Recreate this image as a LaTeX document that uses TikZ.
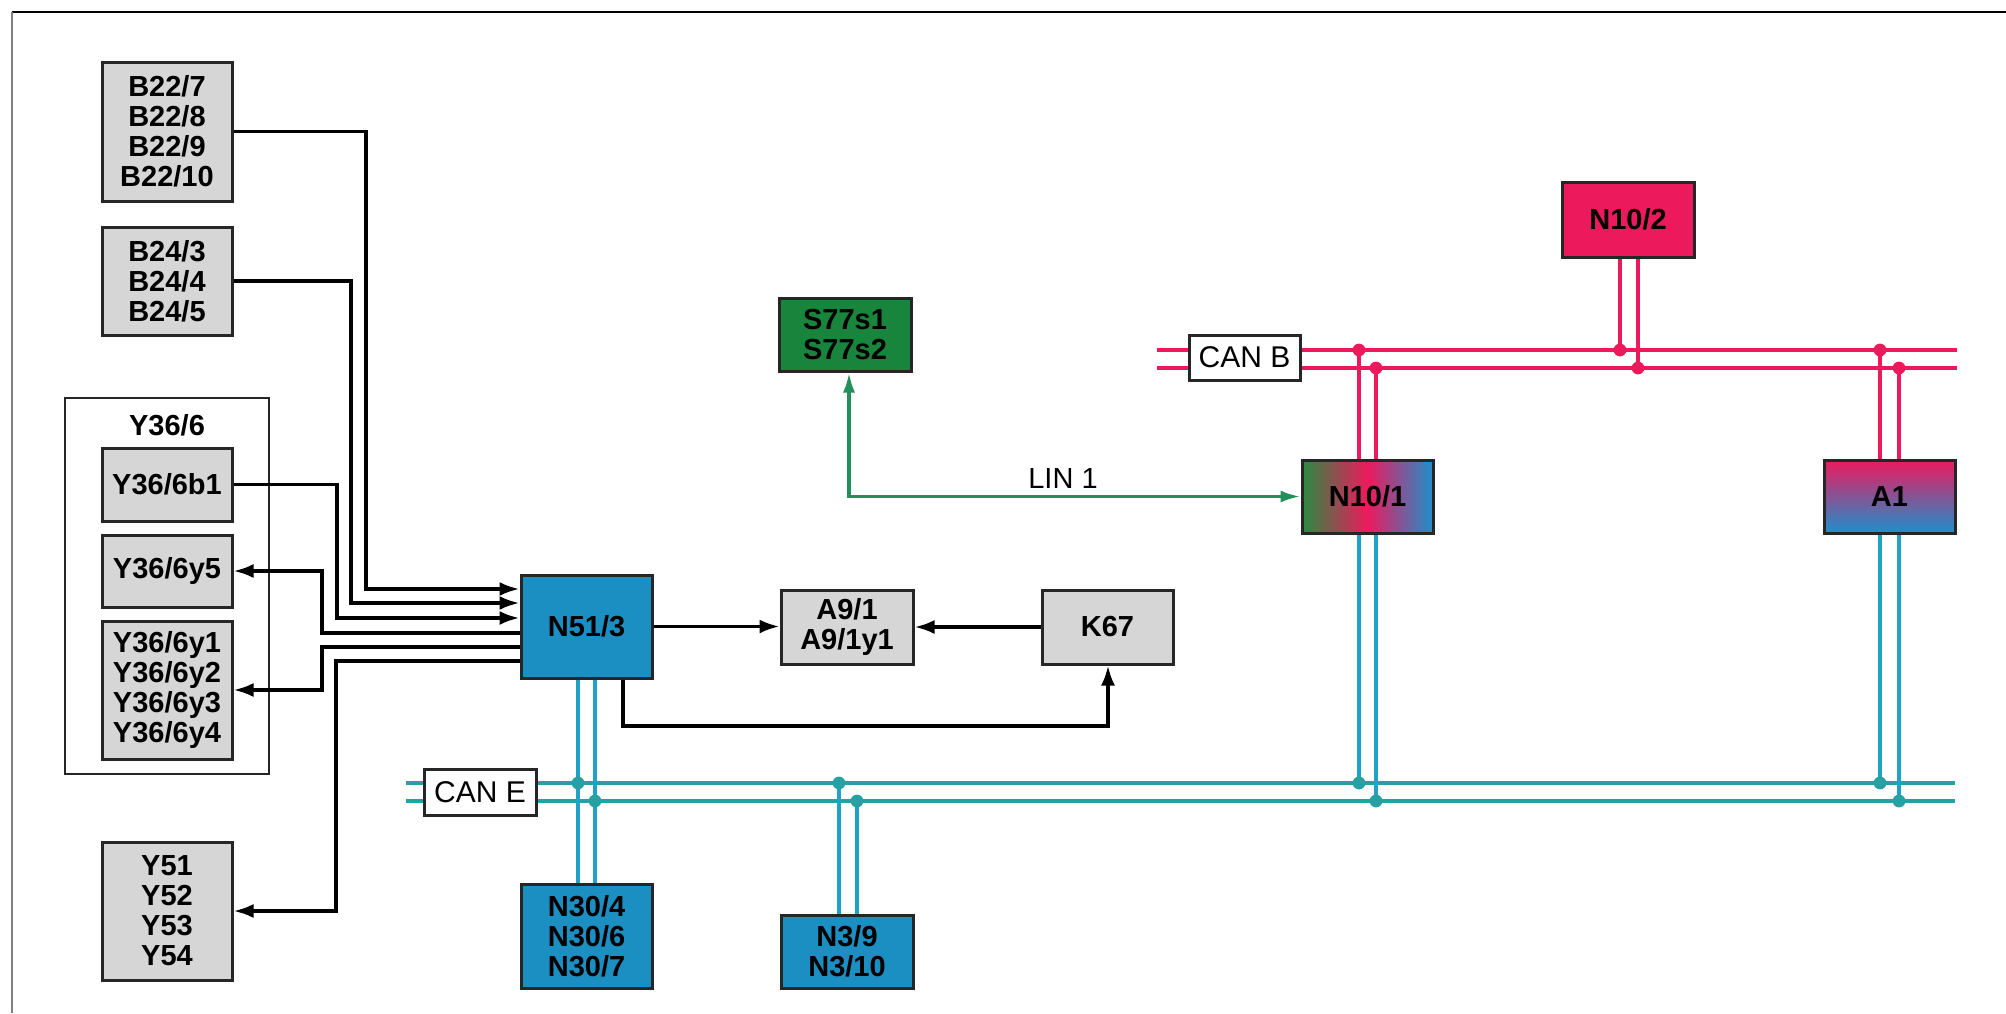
\documentclass[tikz,border=0pt]{standalone}
\usepackage{fontspec}
\setmainfont{Liberation Sans}
\usetikzlibrary{arrows.meta}
\definecolor{boxgray}{HTML}{D6D6D6}
\definecolor{ecublue}{HTML}{1B8EC2}
\definecolor{swgreen}{HTML}{18843C}
\definecolor{linegreen}{HTML}{22905A}
\definecolor{canpink}{HTML}{EC1A5D}
\definecolor{canteal}{HTML}{27A0A4}
\definecolor{canblue}{HTML}{1EA2C6}
\definecolor{gradgreen}{HTML}{2A8A40}
\definecolor{gradblue}{HTML}{1E8FCC}
\begin{document}
\begin{tikzpicture}[x=0.5pt,y=-0.5pt,
  box/.style={draw=black!85, line width=1.5pt, align=center, inner sep=2pt,
    font=\fontsize{14.5}{15}\selectfont\bfseries, text=black},
  gbox/.style={box, fill=boxgray},
  bbox/.style={box, fill=ecublue},
  canlbl/.style={draw=black!85, line width=1.5pt, fill=white, inner sep=1pt,
    font=\fontsize{15}{16}\selectfont},
  conn/.style={line width=1.7pt, black},
  arr/.style={conn, -{Latex[length=10pt,width=7pt]}},
  lin/.style={line width=1.7pt, linegreen, {Latex[length=10pt,width=6pt]}-{Latex[length=10pt,width=6pt]}},
  busB/.style={line width=2.2pt, canpink},
  busE/.style={line width=2.2pt, canteal},
  dropB/.style={line width=1.8pt, canpink},
  dropE/.style={line width=1.8pt, canblue},
]
\useasboundingbox (0,0) rectangle (2006,1013);
% frame
\draw[line width=0.9pt] (12,12) -- (2006,12);
\draw[gray, line width=0.6pt] (12,12) -- (12,1013);

% bus coordinates
\coordinate (cb1w) at (1157,350); \coordinate (cb1e) at (1957,350);
\coordinate (cb2w) at (1157,368); \coordinate (cb2e) at (1957,368);
\coordinate (ce1w) at (406,783);  \coordinate (ce1e) at (1955,783);
\coordinate (ce2w) at (406,801);  \coordinate (ce2e) at (1955,801);
% junctions
\coordinate (jbn2a) at (1620,350); \coordinate (jbn2b) at (1638,368);
\coordinate (jbn1a) at (1359,350); \coordinate (jbn1b) at (1376,368);
\coordinate (jba1a) at (1880,350); \coordinate (jba1b) at (1899,368);
\coordinate (jen5a) at (578,783);  \coordinate (jen5b) at (595,801);
\coordinate (jen3a) at (839,783);  \coordinate (jen3b) at (857,801);
\coordinate (jen1a) at (1359,783); \coordinate (jen1b) at (1376,801);
\coordinate (jea1a) at (1880,783); \coordinate (jea1b) at (1899,801);

% buses
\draw[busB] (cb1w) -- (cb1e);
\draw[busB] (cb2w) -- (cb2e);
\draw[busE] (ce1w) -- (ce1e);
\draw[busE] (ce2w) -- (ce2e);

% nodes
\node[gbox, minimum width=65pt, minimum height=69.5pt] (b22) at (167,131.5) {B22/7\\B22/8\\B22/9\\B22/10};
\node[gbox, minimum width=65pt, minimum height=54pt] (b24) at (167,281) {B24/3\\B24/4\\B24/5};
\node[draw=black!85, line width=1.2pt, minimum width=102pt, minimum height=188pt] (y36grp) at (167,586) {};
\node[font=\fontsize{14.5}{15}\selectfont\bfseries] (y36lbl) at (167,425) {Y36/6};
\node[gbox, minimum width=65pt, minimum height=36.5pt] (y36b1) at (167,484.5) {Y36/6b1};
\node[gbox, minimum width=65pt, minimum height=36pt] (y36y5) at (167,571) {Y36/6y5};
\node[gbox, minimum width=65pt, minimum height=69pt] (y36y1) at (167,690) {Y36/6y1\\Y36/6y2\\Y36/6y3\\Y36/6y4};
\node[gbox, minimum width=65pt, minimum height=69pt] (y51) at (167,911) {Y51\\Y52\\Y53\\Y54};
\node[bbox, minimum width=65.5pt, minimum height=51.5pt] (n513) at (586.5,626.5) {N51/3};
\node[gbox, minimum width=66pt, minimum height=37pt] (a91) at (847,627) {A9/1\\A9/1y1};
\node[gbox, minimum width=65.5pt, minimum height=37pt] (k67) at (1107.5,627) {K67};
\node[bbox, minimum width=65.5pt, minimum height=52pt] (n30) at (586.5,936) {N30/4\\N30/6\\N30/7};
\node[bbox, minimum width=66pt, minimum height=36.5pt] (n3) at (847,951.5) {N3/9\\N3/10};
\node[box, fill=swgreen, minimum width=66pt, minimum height=36.5pt] (s77) at (845,334.5) {S77s1\\S77s2};
\node[box, left color=gradgreen, right color=gradblue, middle color=canpink, minimum width=65.5pt, minimum height=36.5pt] (n101) at (1367.5,496.5) {N10/1};
\node[box, fill=canpink, minimum width=66pt, minimum height=37.5pt] (n102) at (1628,219.5) {N10/2};
\node[box, top color=canpink, bottom color=gradblue, minimum width=65.5pt, minimum height=36.5pt] (a1) at (1889.5,496.5) {A1};
\node[canlbl, minimum width=55.5pt, minimum height=22.5pt] (canb) at (1244.5,357.5) {CAN B};
\node[canlbl, minimum width=56pt, minimum height=23pt] (cane) at (480,792) {CAN E};

% CAN B drops
\draw[dropB] (n102.south -| jbn2a) -- (jbn2a);
\draw[dropB] (n102.south -| jbn2b) -- (jbn2b);
\draw[dropB] (jbn1a) -- (n101.north -| jbn1a);
\draw[dropB] (jbn1b) -- (n101.north -| jbn1b);
\draw[dropB] (jba1a) -- (a1.north -| jba1a);
\draw[dropB] (jba1b) -- (a1.north -| jba1b);
\foreach \j in {jbn2a,jbn2b,jbn1a,jbn1b,jba1a,jba1b} \fill[canpink] (\j) circle (3.2pt);

% CAN E drops
\draw[dropE] (n513.south -| jen5a) -- (n30.north -| jen5a);
\draw[dropE] (n513.south -| jen5b) -- (n30.north -| jen5b);
\draw[dropE] (jen3a) -- (n3.north -| jen3a);
\draw[dropE] (jen3b) -- (n3.north -| jen3b);
\draw[dropE] (n101.south -| jen1a) -- (jen1a);
\draw[dropE] (n101.south -| jen1b) -- (jen1b);
\draw[dropE] (a1.south -| jea1a) -- (jea1a);
\draw[dropE] (a1.south -| jea1b) -- (jea1b);
\foreach \j in {jen5a,jen5b,jen3a,jen3b,jen1a,jen1b,jea1a,jea1b} \fill[canteal] (\j) circle (3.2pt);

% black connectors
\draw[arr] (b22.east) -| (366,589) -- (n513.west |- 366,589);
\draw[arr] (b24.east) -| (351,603) -- (n513.west |- 351,603);
\draw[arr] (y36b1.east) -| (337,618) -- (n513.west |- 337,618);
\draw[arr] (n513.west |- 322,633) -- (322,633) |- (y36y5.east);
\draw[arr] (n513.west |- 322,647) -- (322,647) |- (y36y1.east);
\draw[arr] (n513.west |- 336,661) -- (336,661) |- (y51.east);
\draw[arr] (n513.east) -- (n513.east -| a91.west);
\draw[arr] (k67.west) -- (k67.west -| a91.east);
\draw[arr] (n513.south -| 623,0) -- (623,726) -| (k67.south -| 1108,0);

% LIN
\draw[lin] (s77.south -| 849,0) |- (n101.west);
\node[font=\fontsize{14.5}{15}\selectfont] (linlbl) at (1063,479) {LIN 1};
\end{tikzpicture}
\end{document}
